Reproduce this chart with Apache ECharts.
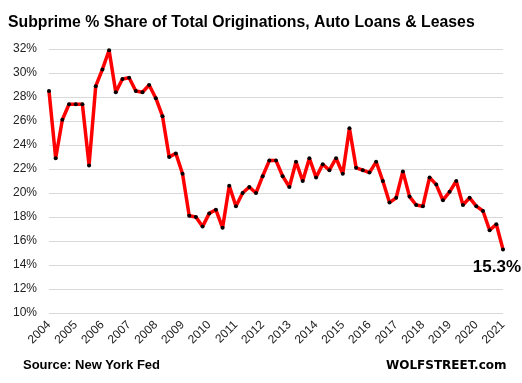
<!DOCTYPE html>
<html>
<head>
<meta charset="utf-8">
<script src="https://cdn.jsdelivr.net/npm/echarts@6/dist/echarts.min.js"></script>
<style>
html,body{margin:0;padding:0;background:#fff;}
#chart{width:522px;height:383px;}
</style>
</head>
<body>
<div id="chart"></div>
<script>
var years = ['2004','2005','2006','2007','2008','2009','2010','2011','2012','2013','2014','2015','2016','2017','2018','2019','2020','2021'];
var yTicks = [10,12,14,16,18,20,22,24,26,28,30,32];
var subprimeShare = [
  28.5, 22.9, 26.1, 27.4,
  27.4, 27.4, 22.3, 28.9,
  30.3, 31.9, 28.4, 29.5,
  29.6, 28.5, 28.4, 29.0,
  27.9, 26.4, 23.0, 23.3,
  21.6, 18.1, 18.0, 17.2,
  18.3, 18.6, 17.1, 20.6,
  18.9, 20.0, 20.5, 20.0,
  21.4, 22.7, 22.7, 21.4,
  20.5, 22.6, 21.0, 22.9,
  21.3, 22.4, 21.9, 22.9,
  21.6, 25.4, 22.1, 21.9,
  21.7, 22.6, 21.0, 19.2,
  19.6, 21.8, 19.7, 19.0,
  18.9, 21.3, 20.7, 19.4,
  20.1, 21.0, 19.0, 19.6,
  18.9, 18.5, 16.9, 17.4,
  15.3
];
var quarters = [];
years.forEach(function(y){
  for (var q = 1; q <= 4; q++) {
    if (quarters.length < subprimeShare.length) quarters.push(y + ' Q' + q);
  }
});
var lastLabel = '15.3%';

var chart = echarts.init(document.getElementById('chart'));
var baseFont = 'Liberation Sans, Arial, sans-serif';
chart.setOption({
  animation: false,
  backgroundColor: '#ffffff',
  title: [{
    text: 'Subprime % Share of Total Originations, Auto Loans & Leases',
    left: 8, top: 15, padding: 0,
    textStyle: {fontFamily: baseFont, fontWeight: 'bold', fontSize: 15.8, color: '#000'}
  }, {
    text: 'Source: New York Fed',
    left: 23, top: 359, padding: 0,
    textStyle: {fontFamily: baseFont, fontWeight: 'bold', fontSize: 13, color: '#000'}
  }, {
    text: 'WOLFSTREET.com',
    left: 386, top: 360, padding: 0,
    textStyle: {fontFamily: 'DejaVu Sans, sans-serif', fontWeight: 'bold', fontSize: 12, color: '#000'}
  }],
  grid: {left: 49, right: 19, top: 49, bottom: 70},
  xAxis: {
    type: 'category',
    data: quarters,
    boundaryGap: false,
    axisLine: {show: false},
    axisTick: {show: false},
    axisLabel: {
      interval: 3,
      rotate: 45,
      margin: 10,
      fontFamily: baseFont,
      fontSize: 12,
      color: '#222',
      formatter: function(v){ return v.split(' ')[0]; }
    },
    splitLine: {show: false}
  },
  yAxis: {
    type: 'value',
    min: yTicks[0],
    max: yTicks[yTicks.length - 1],
    interval: 2,
    axisLine: {show: false},
    axisTick: {show: false},
    axisLabel: {
      formatter: '{value}%',
      fontFamily: baseFont,
      fontSize: 12,
      color: '#222',
      margin: 12
    },
    splitLine: {lineStyle: {color: '#d9d9d9', width: 1}}
  },
  series: [{
    type: 'line',
    data: subprimeShare,
    lineStyle: {color: '#ff0000', width: 3.5},
    symbol: 'circle',
    symbolSize: 4,
    itemStyle: {color: '#000000', borderWidth: 0},
    z: 3,
    markPoint: {
      symbol: 'circle',
      symbolSize: 0,
      data: [{
        coord: [quarters.length - 1, subprimeShare[subprimeShare.length - 1]],
        label: {
          show: true,
          formatter: lastLabel,
          position: 'bottom',
          distance: 9,
          align: 'right',
          offset: [18, 0],
          fontFamily: baseFont,
          fontWeight: 'bold',
          fontSize: 17,
          color: '#000'
        }
      }]
    }
  }]
});
</script>
</body>
</html>
